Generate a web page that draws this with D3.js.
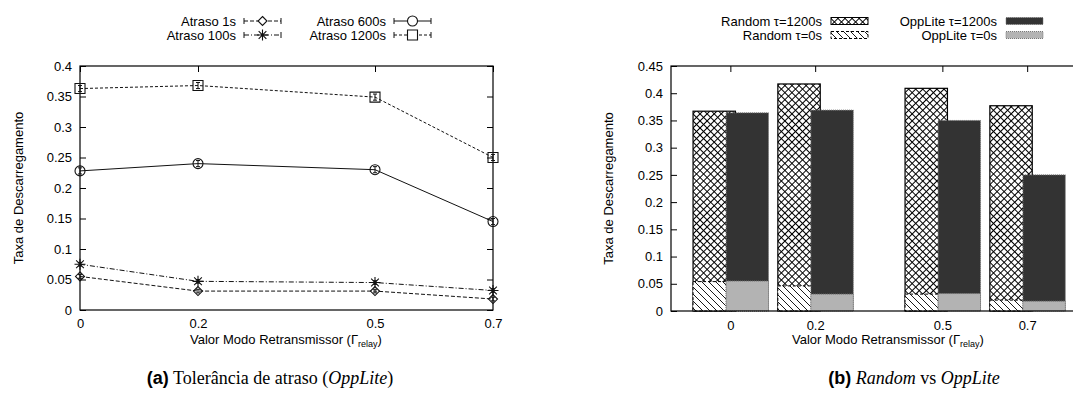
<!DOCTYPE html>
<html>
<head>
<meta charset="utf-8">
<script src="https://cdn.jsdelivr.net/npm/d3@7"></script>
<style>
  body { margin: 0; background: #fff; }
  svg { display: block; font-family: "Liberation Sans", Arial, sans-serif; }
</style>
</head>
<body>
<div id="chart"></div>
<script>
// data
const relayValues = [0, 0.2, 0.5, 0.7];
const relayTickLabels = ["0", "0.2", "0.5", "0.7"];

// (a) delay tolerance, OppLite
const delay1s = [0.055, 0.031, 0.031, 0.018];
const delay100s = [0.075, 0.047, 0.045, 0.032];
const delay600s = [0.228, 0.240, 0.230, 0.145];
const delay1200s = [0.363, 0.368, 0.349, 0.250];
const delay1sErr = [0.003, 0.003, 0.003, 0.003];
const delay100sErr = [0.003, 0.003, 0.003, 0.003];
const delay600sErr = [0.005, 0.005, 0.005, 0.005];
const delay1200sErr = [0.005, 0.005, 0.005, 0.005];
const yTicksA = [0, 0.05, 0.1, 0.15, 0.2, 0.25, 0.3, 0.35, 0.4];

// (b) Random vs OppLite
const random1200 = [0.367, 0.417, 0.409, 0.377];
const random0 = [0.054, 0.046, 0.031, 0.020];
const opplite1200 = [0.364, 0.369, 0.350, 0.250];
const opplite0 = [0.055, 0.031, 0.032, 0.018];
const yTicksB = [0, 0.05, 0.1, 0.15, 0.2, 0.25, 0.3, 0.35, 0.4, 0.45];

const W = 1073, H = 403;
const svg = d3.select("#chart").append("svg")
    .attr("width", W).attr("height", H);

const fmt = d => String(+d.toFixed(2));

// patterns
const defs = svg.append("defs");
const cross = defs.append("pattern").attr("id", "cross")
    .attr("patternUnits", "userSpaceOnUse")
    .attr("width", 5).attr("height", 5)
    .attr("patternTransform", "rotate(45)");
cross.append("rect").attr("width", 5).attr("height", 5).attr("fill", "#fff");
cross.append("path").attr("d", "M0,0.5H5M0.5,0V5")
    .attr("stroke", "#000").attr("stroke-width", 1);

const diag = defs.append("pattern").attr("id", "diag")
    .attr("patternUnits", "userSpaceOnUse")
    .attr("width", 7).attr("height", 7);
diag.append("rect").attr("width", 7).attr("height", 7).attr("fill", "#fff");
diag.append("path").attr("d", "M0,0L7,7M-1,6L1,8M6,-1L8,1")
    .attr("stroke", "#000").attr("stroke-width", 0.9);

// ---------------- chart (a) ----------------
const xA = d3.scaleLinear().domain([0, 0.7]).range([80, 493]);
const yA = d3.scaleLinear().domain([0, 0.4]).range([310, 66]);
const gA = svg.append("g").attr("class", "chart_a");

// axes, ticks inward
gA.append("g").attr("transform", `translate(${xA.range()[0]},0)`)
    .call(d3.axisLeft(yA).tickValues(yTicksA).tickFormat(fmt).tickSize(-6).tickSizeOuter(0).tickPadding(8))
    .call(g => g.select(".domain").remove())
    .call(g => g.selectAll("text").style("font-size", "13px").attr("fill", "#000"));
gA.append("g").attr("transform", `translate(${xA.range()[1]},0)`)
    .call(d3.axisRight(yA).tickValues(yTicksA).tickFormat("").tickSize(-6).tickSizeOuter(0))
    .call(g => g.select(".domain").remove());
gA.append("g").attr("transform", `translate(0,${yA.range()[1]})`)
    .call(d3.axisTop(xA).tickValues(relayValues).tickFormat("").tickSize(-6).tickSizeOuter(0))
    .call(g => g.select(".domain").remove());
gA.append("g").attr("transform", `translate(0,${yA.range()[0]})`)
    .call(d3.axisBottom(xA).tickValues(relayValues).tickFormat((d, i) => relayTickLabels[i]).tickSize(0).tickPadding(9))
    .call(g => g.select(".domain").remove())
    .call(g => g.selectAll("text").style("font-size", "13px").attr("fill", "#000"));
gA.append("rect")
    .attr("x", xA.range()[0]).attr("y", yA.range()[1])
    .attr("width", xA.range()[1] - xA.range()[0]).attr("height", yA.range()[0] - yA.range()[1])
    .attr("fill", "none").attr("stroke", "#000").attr("stroke-width", 1.2);

// marker shapes
const markerPath = {
    diamond: s => `M0,${-s}L${s},0L0,${s}L${-s},0Z`,
    star: s => `M${-s},0H${s}M0,${-s}V${s}M${-s*0.7},${-s*0.7}L${s*0.7},${s*0.7}M${-s*0.7},${s*0.7}L${s*0.7},${-s*0.7}`,
    circle: s => `M${s},0A${s},${s} 0 1,1 ${-s},0A${s},${s} 0 1,1 ${s},0Z`,
    square: s => `M${-s},${-s}H${s}V${s}H${-s}Z`
};

const seriesA = [
    {name: "Atraso 1s", values: delay1s, err: delay1sErr, dash: "4,2", shape: "diamond", size: 4.5, color: "#111"},
    {name: "Atraso 100s", values: delay100s, err: delay100sErr, dash: "5,2,1,2", shape: "star", size: 5.5, color: "#111"},
    {name: "Atraso 600s", values: delay600s, err: delay600sErr, dash: null, shape: "circle", size: 5, color: "#111"},
    {name: "Atraso 1200s", values: delay1200s, err: delay1200sErr, dash: "3,2", shape: "square", size: 5, color: "#111"}
];

const line = d3.line().x((d, i) => xA(relayValues[i])).y(d => yA(d));

seriesA.forEach(s => {
    const g = gA.append("g").attr("class", "series");
    g.append("path").attr("d", line(s.values))
        .attr("fill", "none").attr("stroke", s.color).attr("stroke-width", 1)
        .attr("stroke-dasharray", s.dash);
    // error bars
    s.values.forEach((v, i) => {
        const x = xA(relayValues[i]);
        const y0 = yA(v - s.err[i]), y1 = yA(v + s.err[i]);
        g.append("path").attr("d", `M${x},${y0}V${y1}M${x-2},${y0}H${x+2}M${x-2},${y1}H${x+2}`)
            .attr("stroke", s.color).attr("stroke-width", 1).attr("fill", "none");
        g.append("path").attr("transform", `translate(${x},${yA(v)})`)
            .attr("d", markerPath[s.shape](s.size))
            .attr("fill", "none").attr("stroke", s.color).attr("stroke-width", 1.1);
    });
});

// legend (a)
const legendA = [
    {s: seriesA[0], tx: 236, sx: 244, y: 21},
    {s: seriesA[1], tx: 236, sx: 244, y: 35},
    {s: seriesA[2], tx: 386, sx: 394, y: 21},
    {s: seriesA[3], tx: 386, sx: 394, y: 35}
];
legendA.forEach(l => {
    const g = gA.append("g").attr("class", "legend");
    g.append("text").attr("x", l.tx).attr("y", l.y).attr("dy", "0.35em")
        .attr("text-anchor", "end").style("font-size", "13px").text(l.s.name);
    const x0 = l.sx, x1 = l.sx + 37, xm = (x0 + x1) / 2;
    g.append("path").attr("d", `M${x0},${l.y}H${x1}`)
        .attr("stroke", "#111").attr("fill", "none").attr("stroke-dasharray", l.s.dash);
    g.append("path").attr("d", `M${x0},${l.y-3}V${l.y+3}M${x1},${l.y-3}V${l.y+3}`)
        .attr("stroke", "#111").attr("fill", "none");
    g.append("path").attr("transform", `translate(${xm},${l.y})`)
        .attr("d", markerPath[l.s.shape](l.s.size))
        .attr("fill", "#fff").attr("stroke", "#111").attr("stroke-width", 1.1);
});

// axis titles (a)
gA.append("text").attr("transform", `translate(18,${(yA.range()[0] + yA.range()[1]) / 2}) rotate(-90)`)
    .attr("text-anchor", "middle").attr("dy", "0.35em").style("font-size", "13px")
    .text("Taxa de Descarregamento");
const xlabA = gA.append("text").attr("x", 286).attr("y", 344).attr("text-anchor", "middle").style("font-size", "13px");
xlabA.append("tspan").text("Valor Modo Retransmissor (Γ");
xlabA.append("tspan").attr("dy", 3).style("font-size", "9px").text("relay");
xlabA.append("tspan").attr("dy", -3).text(")");

// ---------------- chart (b) ----------------
const xB = d3.scaleLinear().domain([-0.14, 0.86]).range([671, 1095]);
const yB = d3.scaleLinear().domain([0, 0.45]).range([311, 66]);
const gB = svg.append("g").attr("class", "chart_b");

gB.append("g").attr("transform", `translate(${xB.range()[0]},0)`)
    .call(d3.axisLeft(yB).tickValues(yTicksB).tickFormat(fmt).tickSize(-6).tickSizeOuter(0).tickPadding(8))
    .call(g => g.select(".domain").remove())
    .call(g => g.selectAll("text").style("font-size", "13px").attr("fill", "#000"));
gB.append("g").attr("transform", `translate(0,${yB.range()[1]})`)
    .call(d3.axisTop(xB).tickValues(relayValues).tickFormat("").tickSize(-6).tickSizeOuter(0))
    .call(g => g.select(".domain").remove());
gB.append("g").attr("transform", `translate(0,${yB.range()[0]})`)
    .call(d3.axisBottom(xB).tickValues(relayValues).tickFormat((d, i) => relayTickLabels[i]).tickSize(0).tickPadding(10))
    .call(g => g.select(".domain").remove())
    .call(g => g.selectAll("text").style("font-size", "13px").attr("fill", "#000"));

// bars
const barW = 0.1;
const barSeries = [
    {name: "Random τ=1200s", values: random1200, off: -0.038, fill: "url(#cross)", stroke: "#000", dash: null, sw: 1.2},
    {name: "Random τ=0s", values: random0, off: -0.038, fill: "url(#diag)", stroke: "#000", dash: "3,2", sw: 1},
    {name: "OppLite τ=1200s", values: opplite1200, off: 0.04, fill: "#333333", stroke: "#777", dash: "1,1", sw: 1},
    {name: "OppLite τ=0s", values: opplite0, off: 0.04, fill: "#b3b3b3", stroke: "#777", dash: "1,1", sw: 1}
];
barSeries.forEach(s => {
    gB.append("g").selectAll("rect").data(s.values).join("rect")
        .attr("x", (d, i) => xB(relayValues[i] + s.off - barW / 2))
        .attr("width", xB(barW) - xB(0))
        .attr("y", d => yB(d))
        .attr("height", d => yB(0) - yB(d))
        .attr("fill", s.fill).attr("stroke", s.stroke)
        .attr("stroke-width", s.sw).attr("stroke-dasharray", s.dash);
});

gB.append("rect")
    .attr("x", xB.range()[0]).attr("y", yB.range()[1])
    .attr("width", xB.range()[1] - xB.range()[0]).attr("height", yB.range()[0] - yB.range()[1])
    .attr("fill", "none").attr("stroke", "#000").attr("stroke-width", 1.2);

// legend (b)
const legendB = [
    {s: barSeries[0], tx: 822, bx: 831, y: 21},
    {s: barSeries[1], tx: 822, bx: 831, y: 35},
    {s: barSeries[2], tx: 997, bx: 1006, y: 21},
    {s: barSeries[3], tx: 997, bx: 1006, y: 35}
];
legendB.forEach(l => {
    const g = gB.append("g").attr("class", "legend");
    g.append("text").attr("x", l.tx).attr("y", l.y).attr("dy", "0.35em")
        .attr("text-anchor", "end").style("font-size", "13px").text(l.s.name);
    g.append("rect").attr("x", l.bx).attr("y", l.y - 3.5).attr("width", 37).attr("height", 7)
        .attr("fill", l.s.fill).attr("stroke", l.s.stroke).attr("stroke-width", 1)
        .attr("stroke-dasharray", l.s.dash);
});

gB.append("text").attr("transform", `translate(608,${(yB.range()[0] + yB.range()[1]) / 2}) rotate(-90)`)
    .attr("text-anchor", "middle").attr("dy", "0.35em").style("font-size", "13px")
    .text("Taxa de Descarregamento");
const xlabB = gB.append("text").attr("x", 888).attr("y", 344).attr("text-anchor", "middle").style("font-size", "13px");
xlabB.append("tspan").text("Valor Modo Retransmissor (Γ");
xlabB.append("tspan").attr("dy", 3).style("font-size", "9px").text("relay");
xlabB.append("tspan").attr("dy", -3).text(")");

// captions
const capA = svg.append("text").attr("x", 270).attr("y", 384).attr("text-anchor", "middle")
    .style("font-size", "18px").style("font-family", "'Liberation Serif', serif");
capA.append("tspan").style("font-family", "'Liberation Sans', Arial, sans-serif").style("font-weight", "bold").text("(a)");
capA.append("tspan").text(" Tolerância de atraso (");
capA.append("tspan").style("font-style", "italic").text("OppLite");
capA.append("tspan").text(")");

const capB = svg.append("text").attr("x", 914).attr("y", 384).attr("text-anchor", "middle")
    .style("font-size", "18px").style("font-family", "'Liberation Serif', serif");
capB.append("tspan").style("font-family", "'Liberation Sans', Arial, sans-serif").style("font-weight", "bold").text("(b)");
capB.append("tspan").text(" ");
capB.append("tspan").style("font-style", "italic").text("Random");
capB.append("tspan").text(" vs ");
capB.append("tspan").style("font-style", "italic").text("OppLite");
</script>
</body>
</html>
